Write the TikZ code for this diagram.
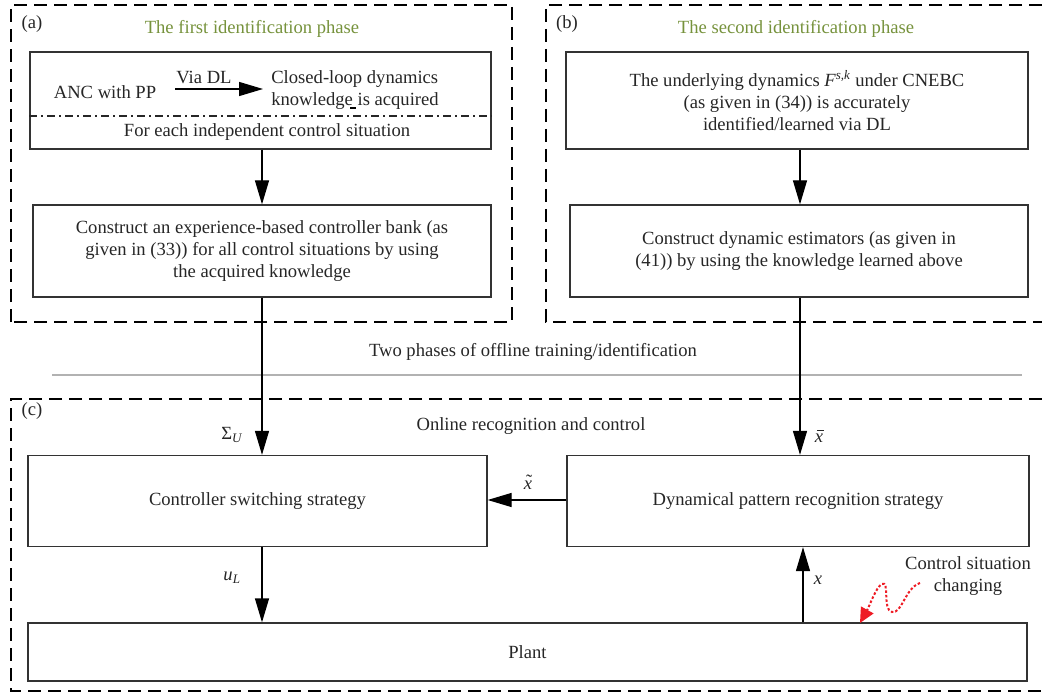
\documentclass[tikz,border=0pt]{standalone}
\usepackage{fontspec}
\setmainfont{Liberation Serif}
\usetikzlibrary{arrows.meta}
\definecolor{phasegreen}{HTML}{76923C}
\definecolor{sqred}{HTML}{EE1C25}
\newcommand{\xbarsym}{\makebox[0pt][l]{\raisebox{0.62em}{\hspace{0.12em}\rule{0.36em}{0.05em}}}\textit{x}}
\newcommand{\xtildesym}{\makebox[0pt][l]{\raisebox{0.12em}{\hspace{0.12em}˜}}\textit{x}}
\begin{document}
\begin{tikzpicture}[x=1pt,y=-1pt,
  every node/.style={font=\fontsize{18.6}{22}\selectfont, text=black!85},
  blk/.style={draw=black!80, line width=1.3pt, rectangle, align=center, inner sep=0pt},
  arr/.style={draw=black, line width=1.3pt, -{Triangle[length=24pt,width=14pt]}},
  phase/.style={draw=black, line width=1.8pt, dash pattern=on 13pt off 7pt},
  ttl/.style={text=phasegreen},
  lbl/.style={inner sep=0pt}]
\useasboundingbox (0,0) rectangle (1042,695);
% dashed phase frames
\draw[phase] (11,322) -- (11,5) -- (512,5) -- (512,322) -- cycle;
\draw[phase] (1042,5) -- (546,5) -- (546,322) -- (1042,322);
\draw[phase] (1042,399) -- (11,399) -- (11,691) -- (1042,691);
\draw[black!30, line width=2pt] (52,375) -- (1022,375);
% labels
\node[lbl] (la) at (32,24) {(a)};
\node[lbl] (lb) at (567,24) {(b)};
\node[lbl] (lc) at (32,411) {(c)};
\node[ttl] (t1) at (252,29) {The first identification phase};
\node[ttl] (t2) at (796,29) {The second identification phase};
\node (off) at (533,352) {Two phases of offline training/identification};
\node (onl) at (531,426) {Online recognition and control};
% boxes
\node[blk, minimum width=461pt, minimum height=97pt] (a1) at (260.5,100.5) {};
\node[blk, minimum width=458pt, minimum height=92pt] (a2) at (262,251)
  {Construct an experience-based controller bank (as\\ given in (33)) for all control situations by using\\ the acquired knowledge};
\node[blk, minimum width=462pt, minimum height=97pt] (b1) at (797,100.5)
  {The underlying dynamics \textit{F}\textsuperscript{\textit{s,k}} under CNEBC\\ (as given in (34)) is accurately\\ identified/learned via DL};
\node[blk, minimum width=458pt, minimum height=92pt] (b2) at (799,251)
  {Construct dynamic estimators (as given in\\ (41)) by using the knowledge learned above};
\node[blk, minimum width=459pt, minimum height=91pt] (ctrl) at (257.5,501)
  {Controller switching strategy};
\node[blk, minimum width=462pt, minimum height=91pt] (dyn) at (798,501)
  {Dynamical pattern recognition strategy};
\node[blk, minimum width=999pt, minimum height=58pt] (plant) at (527.5,652) {Plant};
% content of box a1
\node[lbl] (anc) at (105,92) {ANC with PP};
\node[lbl] (via) at (204,77) {Via DL};
\node[lbl, align=left] (cl) at (355,90) {Closed-loop dynamics\\ knowledge is acquired};
\node[lbl] (fe) at (267,132) {For each independent control situation};
\coordinate (s1) at (175,89);
\coordinate (s2) at (263,89);
\draw[arr] (s1) -- (s2);
\draw[black, line width=2pt] (350,108) -- (356,108);
\draw[black!85, line width=1.3pt, dash pattern=on 8pt off 4pt on 2pt off 4pt]
  (a1.west |- 0,116) -- (a1.east |- 0,116);
% connector columns
\coordinate (ca) at (262,0);
\coordinate (cb) at (800,0);
\coordinate (cx) at (803,0);
\draw[arr] (a1.south -| ca) -- (a2.north -| ca);
\draw[arr] (a2.south -| ca) -- (ctrl.north -| ca);
\draw[arr] (b1.south -| cb) -- (b2.north -| cb);
\draw[arr] (b2.south -| cb) -- (dyn.north -| cb);
\draw[arr] (dyn.west |- 0,500) -- (ctrl.east |- 0,500);
\draw[arr] (ctrl.south -| ca) -- (plant.north -| ca);
\draw[arr] (plant.north -| cx) -- (dyn.south -| cx);
% signal labels
\node[lbl] (sig) at (232,435) {Σ\textsubscript{\textit{U}}};
\node[lbl] (xb) at (819,436) {\xbarsym};
\node[lbl] (xt) at (528,482) {\xtildesym};
\node[lbl] (ul) at (232,578) {\textit{u}\textsubscript{\textit{L}}};
\node[lbl] (xx) at (818,580) {\textit{x}};
% control situation changing
\node[lbl, align=center] (csc) at (968,576) {Control situation\\ changing};
\coordinate (r0) at (920,583);
\coordinate (r1) at (860,623);
\draw[sqred, line width=2pt, dash pattern=on 2.5pt off 2pt, -{Triangle[length=15pt,width=14pt,sep=0pt]}]
  (r0) .. controls (905,588) and (902,614) .. (892,612)
       .. controls (882,610) and (890,580) .. (882,584)
       .. controls (876,587) and (870,605) .. (r1);
\end{tikzpicture}
\end{document}
